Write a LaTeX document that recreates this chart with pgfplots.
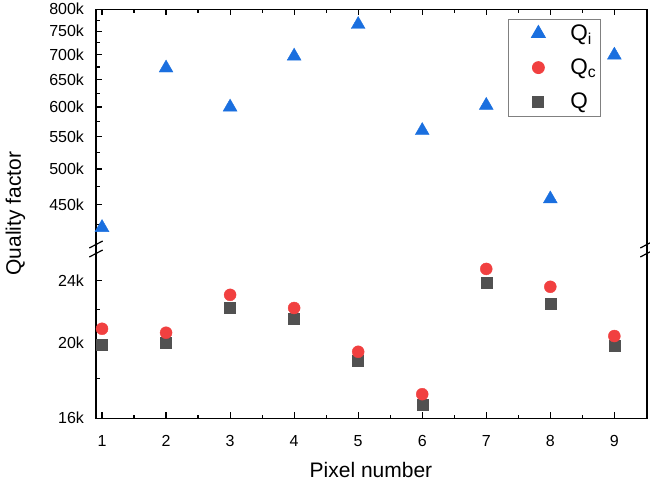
\documentclass[border=0pt]{standalone}
\usepackage{pgfplots}
\pgfplotsset{compat=1.18}
\usepackage{fontspec}
\setmainfont{Liberation Sans}

\definecolor{qiblue}{HTML}{1A6FDF}
\definecolor{qcred}{HTML}{F14040}
\definecolor{qgray}{HTML}{515151}

\begin{document}
\begin{tikzpicture}
\useasboundingbox (0bp,0bp) rectangle (650bp,491bp);

% upper segment: intrinsic quality factor
\begin{axis}[
  name=upper,
  scale only axis, width=551bp, height=235.7bp,
  at={(96bp,246bp)}, anchor=south west,
  xmin=0.906, xmax=9.51,
  ymode=log, ymin=400000, ymax=800000,
  clip=false, tick align=inside,
  axis x line*=top, axis y line*=left,
  axis line style={-, line width=1.2bp, line cap=rect},
  every tick/.style={black, line width=1.2bp},
  major tick length=6bp, minor tick length=3.5bp,
  xtick={1,2,3,4,5,6,7,8,9},
  minor xtick={1.5,2.5,3.5,4.5,5.5,6.5,7.5,8.5},
  xticklabels={},
  ytick={450000,500000,550000,600000,650000,700000,750000,800000},
  yticklabels={450k,500k,550k,600k,650k,700k,750k,800k},
  minor ytick={425000,475000,525000,575000,625000,675000,725000,775000},
  tick label style={font=\fontsize{16bp}{19bp}\selectfont},
  yticklabel style={xshift=-8.5bp},
  legend cell align=left,
  legend image code/.code={%
    \path[draw=none] (-28bp,0bp) (8bp,0bp);
    \draw[#1] plot coordinates {(0bp,0bp)};},
  legend style={at={(0.7477,0.9589)}, anchor=north west,
    draw=gray, line width=0.8bp,
    font=\fontsize{22.5bp}{26bp}\selectfont,
    inner xsep=2bp, inner ysep=3.5bp,
    row sep=13bp, column sep=22bp},
]
\addplot[only marks, mark=triangle*, mark size=8bp, color=qiblue]
  coordinates {(1,421000) (2,673000) (3,600000) (4,697000) (5,765000)
               (6,560000) (7,603000) (8,458000) (9,699000)};
\addlegendentry{Q\textsubscript{i}}
\addlegendimage{only marks, mark=*, mark size=6bp, color=qcred}
\addlegendentry{Q\textsubscript{c}}
\addlegendimage{only marks, mark=square*, mark size=5.5bp, color=qgray}
\addlegendentry{Q}
\end{axis}

% lower segment: coupling and loaded quality factors
\begin{axis}[
  name=lower,
  scale only axis, width=551bp, height=165.3bp,
  at={(96bp,72.7bp)}, anchor=south west,
  xmin=0.906, xmax=9.51,
  ymode=log, ymin=16000, ymax=26000,
  clip=false, tick align=inside,
  axis x line*=bottom, axis y line*=left,
  axis line style={-, line width=1.2bp, line cap=rect},
  every tick/.style={black, line width=1.2bp},
  major tick length=6bp, minor tick length=3.5bp,
  xtick={1,2,3,4,5,6,7,8,9},
  minor xtick={1.5,2.5,3.5,4.5,5.5,6.5,7.5,8.5},
  xticklabels={1,2,3,4,5,6,7,8,9},
  ytick={16000,20000,24000},
  yticklabels={16k,20k,24k},
  minor ytick={18000,22000},
  tick label style={font=\fontsize{16bp}{19bp}\selectfont},
  yticklabel style={xshift=-8.5bp},
  xticklabel style={yshift=-14bp},
]
\addplot[only marks, mark=square*, mark size=5.5bp, color=qgray]
  coordinates {(1,19830) (2,19960) (3,22140) (4,21440) (5,18970)
               (6,16660) (7,23830) (8,22390) (9,19790)};
\addplot[only marks, mark=*, mark size=6bp, color=qcred]
  coordinates {(1,20810) (2,20570) (3,22990) (4,22120) (5,19450)
               (6,17170) (7,24810) (8,23540) (9,20370)};
\end{axis}

% right-hand frame and axis break
\draw[line width=1.2bp, line cap=rect] (upper.north east) -- (upper.south east);
\draw[line width=1.2bp, line cap=rect] (lower.north east) -- (lower.south east);
\draw[line width=1.2bp] (96bp,246bp) -- (96bp,238bp) (647bp,246bp) -- (647bp,238bp);
\foreach \yc in {246.5,237.5}{
  \draw[line width=1.2bp] (89.3bp,\yc bp-3.5bp) -- (102.7bp,\yc bp+3.5bp);
  \draw[line width=1.2bp] (640.3bp,\yc bp-3.5bp) -- (650bp,\yc bp+1.6bp);
}

% axis titles
\node[rotate=90, font=\fontsize{21bp}{24bp}\selectfont] at (15.5bp,277.5bp) {Quality factor};
\node[font=\fontsize{21bp}{24bp}\selectfont] at (371bp,21bp) {Pixel number};
\end{tikzpicture}
\end{document}
